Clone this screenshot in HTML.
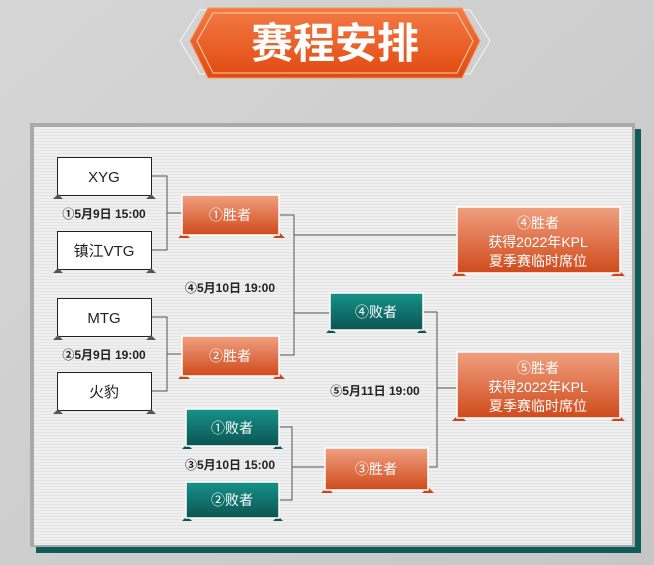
<!DOCTYPE html>
<html><head><meta charset="utf-8"><style>
html,body{margin:0;padding:0;width:654px;height:565px;overflow:hidden;background:#cfcfcf}
svg{display:block}
text{font-family:"Liberation Sans","Noto Sans CJK SC",sans-serif}
</style></head><body>
<svg width="654" height="565" viewBox="0 0 654 565" xmlns="http://www.w3.org/2000/svg">
<defs>
<linearGradient id="bg" x1="0" y1="0" x2="1" y2="1"><stop offset="0" stop-color="#d6d6d6"/><stop offset="1" stop-color="#c6c6c6"/></linearGradient>
<linearGradient id="og" x1="0" y1="0" x2="0" y2="1"><stop offset="0" stop-color="#f0a080"/><stop offset="1" stop-color="#cf4a1c"/></linearGradient>
<linearGradient id="tg" x1="0" y1="0" x2="0" y2="1"><stop offset="0" stop-color="#17918a"/><stop offset="1" stop-color="#0b5552"/></linearGradient>
<linearGradient id="hg" x1="0" y1="0" x2="0" y2="1"><stop offset="0" stop-color="#f47a45"/><stop offset="1" stop-color="#e04a10"/></linearGradient>
<pattern id="st" width="4" height="3" patternUnits="userSpaceOnUse"><rect width="4" height="3" fill="#efefef"/><rect width="4" height="1" fill="#e4e4e4"/></pattern>
</defs>
<rect width="654" height="565" fill="url(#bg)"/>
<polygon points="180,41 200,10 470,10 490,41 470,74 200,74" fill="none" stroke="#fff" stroke-width="1" opacity="0.8"/>
<polygon points="190,41 208,8 462,8 480,41 462,78 208,78" fill="url(#hg)" stroke="#f59a60" stroke-width="1"/>
<polygon points="197,41 213,13 457,13 473,41 457,73 213,73" fill="none" stroke="#ffd0b0" stroke-width="1"/>
<text x="335" y="58" font-size="42" font-weight="bold" fill="#fff" text-anchor="middle">赛程安排</text>
<rect x="36" y="129" width="605" height="424" fill="#0e5c58"/>
<rect x="30" y="123" width="605" height="424" fill="#aaa"/>
<rect x="34" y="127" width="598" height="418" fill="url(#st)"/>
<g fill="none" stroke="#555" stroke-width="1">
<path d="M151,176H167V250H151M167,213H182"/>
<path d="M151,317H167V391H151M167,354H182"/>
<path d="M279,215H294V355H279M294,313H330M294,235H457"/>
<path d="M279,427H292V500H279M292,467H325"/>
<path d="M423,312H437V467H428M437,388H457"/>
</g>
<g fill="#fff" stroke="#222" stroke-width="1">
<rect x="57.5" y="157.5" width="94" height="38"/>
<rect x="57.5" y="231.5" width="94" height="38"/>
<rect x="57.5" y="298.5" width="94" height="38"/>
<rect x="57.5" y="372.5" width="94" height="38"/>
</g>
<g fill="#555">
<path d="M53,199l5,-5l5,5zM146,199l5,-5l5,5z"/>
<path d="M53,273l5,-5l5,5zM146,273l5,-5l5,5z"/>
<path d="M53,340l5,-5l5,5zM146,340l5,-5l5,5z"/>
<path d="M53,414l5,-5l5,5zM146,414l5,-5l5,5z"/>
</g>
<g fill="#c8461a">
<path d="M178,238l6,-6l6,6zM273,238l6,-6l6,6z"/>
<path d="M178,379l6,-6l6,6zM273,379l6,-6l6,6z"/>
<path d="M321,493l6,-6l6,6zM422,493l6,-6l6,6z"/>
<path d="M452,276l7,-7l7,7zM611,276l7,-7l7,7z"/>
<path d="M452,421l7,-7l7,7zM611,421l7,-7l7,7z"/>
</g>
<g fill="#0b5552">
<path d="M182,449l5,-5l5,5zM273,449l5,-5l5,5z"/>
<path d="M182,521l5,-5l5,5zM273,521l5,-5l5,5z"/>
<path d="M326,333l5,-5l5,5zM417,333l5,-5l5,5z"/>
</g>
<g stroke="#fff" stroke-width="1.5">
<rect x="182" y="195" width="97" height="40" fill="url(#og)"/>
<rect x="182" y="336" width="97" height="40" fill="url(#og)"/>
<rect x="186" y="409" width="93" height="37" fill="url(#tg)"/>
<rect x="186" y="482" width="93" height="36" fill="url(#tg)"/>
<rect x="330" y="293" width="93" height="37" fill="url(#tg)"/>
<rect x="325" y="448" width="103" height="42" fill="url(#og)"/>
<rect x="457" y="207" width="163" height="66" fill="url(#og)"/>
<rect x="457" y="352" width="163" height="66" fill="url(#og)"/>
</g>
<g font-size="14" fill="#fff" text-anchor="middle">
<text x="230" y="220">①胜者</text><text x="230" y="361">②胜者</text>
<text x="232" y="433">①败者</text><text x="232" y="505">②败者</text>
<text x="376" y="317">④败者</text><text x="376" y="474">③胜者</text>
<text x="538" y="228">④胜者</text><text x="538" y="247">获得2022年KPL</text><text x="538" y="266">夏季赛临时席位</text>
<text x="538" y="373">⑤胜者</text><text x="538" y="392">获得2022年KPL</text><text x="538" y="411">夏季赛临时席位</text>
</g>
<g font-size="15" fill="#222" text-anchor="middle">
<text x="104" y="182">XYG</text><text x="104" y="256">镇江VTG</text>
<text x="104" y="323">MTG</text><text x="104" y="397">火豹</text>
</g>
<g font-size="12" font-weight="bold" fill="#222" text-anchor="middle">
<text x="104" y="218">①5月9日 15:00</text>
<text x="104" y="359">②5月9日 19:00</text>
<text x="230" y="292">④5月10日 19:00</text>
<text x="230" y="469">③5月10日 15:00</text>
<text x="375" y="395">⑤5月11日 19:00</text>
</g>
</svg>
</body></html>
